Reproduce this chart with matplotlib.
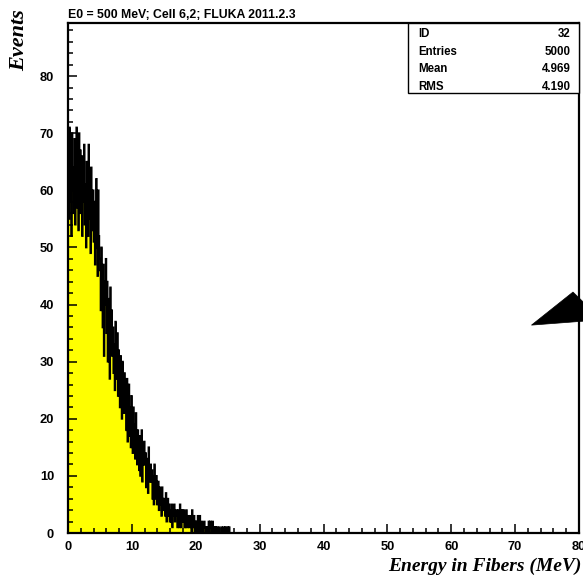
import numpy as np
import matplotlib
matplotlib.use("Agg")
import matplotlib.pyplot as plt
from matplotlib.patches import Rectangle, Polygon

# Fiber energy deposit, 0.1 MeV bins starting at 0 MeV (bins above 26 MeV are empty)
bin_width = 0.1
x_range = (0.0, 80.0)
counts_low = [
    61, 55, 71, 58, 66, 52, 70, 60, 64, 56,
    69, 54, 62, 71, 57, 65, 53, 70, 59, 67,
    56, 66, 52, 63, 58, 68, 54, 61, 50, 65,
    57, 52, 68, 55, 62, 49, 64, 58, 53, 60,
    51, 58, 47, 55, 62, 50, 45, 60, 52, 48,
    46, 39, 50, 42, 36, 47, 31, 44, 40, 48,
    35, 44, 30, 41, 37, 27, 43, 33, 39, 31,
    36, 28, 33, 25, 37, 30, 27, 35, 24, 32,
    29, 22, 31, 26, 20, 30, 24, 21, 28, 23,
    25, 18, 27, 16, 23, 26, 17, 22, 15, 24,
    20, 14, 22, 16, 19, 13, 21, 17, 12, 18,
    16, 11, 17, 10, 15, 18, 9, 14, 12, 16,
    12, 14, 8, 13, 10, 7, 15, 11, 9, 12,
    9, 11, 6, 10, 5, 12, 8, 6, 10, 5,
    7, 9, 4, 8, 5, 7, 3, 8, 6, 4,
    5, 6, 3, 7, 2, 5, 6, 3, 5, 2,
    4, 2, 5, 1, 4, 3, 5, 2, 3, 4,
    3, 1, 4, 2, 1, 5, 3, 1, 4, 2,
    2, 4, 1, 3, 1, 4, 2, 1, 3, 2,
    1, 3, 2, 0, 4, 2, 1, 3, 0, 2,
    1, 2, 0, 3, 0, 1, 3, 1, 0, 2,
    1, 0, 1, 2, 1, 0, 1, 0, 1, 1,
    2, 0, 2, 2, 1, 0, 2, 1, 0, 1,
    0, 1, 0, 1, 0, 0, 1, 0, 0, 0,
    1, 0, 0, 1, 1, 0, 1, 1, 0, 0,
    1, 0, 1, 0, 0, 0, 0, 0, 0, 0,
]

title = "E0 = 500 MeV; Cell 6,2; FLUKA 2011.2.3"
x_label = "Energy in Fibers (MeV)"
y_label = "Events"
stats_names = ["ID", "Entries", "Mean", "RMS"]
stats_values = ["32", "5000", "4.969", "4.190"]
x_ticks = [0, 10, 20, 30, 40, 50, 60, 70, 80]
y_ticks = [0, 10, 20, 30, 40, 50, 60, 70, 80]
y_max = 89.3
# arrow head drawn at the right edge of the frame (data coordinates)
arrow_head = [(72.56, 36.4), (79.06, 42.19), (80.8, 40.3), (80.8, 37.1)]

n_bins = int(round((x_range[1] - x_range[0]) / bin_width))
edges = np.linspace(x_range[0], x_range[1], n_bins + 1)
counts = np.zeros(n_bins)
counts[:len(counts_low)] = counts_low

W, H = 583, 577
fig = plt.figure(figsize=(W / 100, H / 100), dpi=100)


def fx(px):
    return px / W


def fy(py):
    return 1 - py / H


ax_left, ax_right, ax_top, ax_bottom = 68, 579, 23, 533
ax = fig.add_axes([fx(ax_left), fy(ax_bottom), fx(ax_right - ax_left),
                   (ax_bottom - ax_top) / H])

ax.stairs(counts, edges, fill=True, color="#ffff00", zorder=1)
ax.stairs(counts, edges, color="black", lw=1.3, zorder=2)

ax.set_xlim(*x_range)
ax.set_ylim(0, y_max)
ax.set_xticks(x_ticks)
ax.set_yticks(y_ticks)
ax.set_xticks(np.arange(0, 81, 2), minor=True)
ax.set_yticks(np.arange(0, 90, 2), minor=True)

sans = ["Liberation Sans", "DejaVu Sans"]
serif = ["Liberation Serif", "DejaVu Serif"]
ax.tick_params(which="both", direction="in", top=False, right=False,
               width=1.1, color="black")
ax.tick_params(which="major", length=6.5)
ax.tick_params(which="minor", length=3.6)
ax.tick_params(axis="y", which="major", pad=10)
ax.tick_params(axis="x", which="major", pad=6)
for lab in ax.get_xticklabels() + ax.get_yticklabels():
    lab.set_fontfamily(sans)
    lab.set_fontweight("bold")
    lab.set_fontsize(9.3)
for sp in ax.spines.values():
    sp.set_linewidth(1.6)

# arrow head at the right edge
ax.add_patch(Polygon(arrow_head, closed=True, facecolor="black",
                     edgecolor="black", lw=0.5, clip_on=False, zorder=5))

# title and axis titles
fig.text(fx(68), fy(18), title, family=sans, weight="bold", fontsize=8.8,
         ha="left", va="baseline")
fig.text(fx(582), fy(571), x_label, family=serif, weight="bold",
         style="italic", fontsize=14, ha="right", va="baseline")
fig.text(fx(19), fy(9), y_label, family=serif, weight="bold",
         style="italic", fontsize=16, ha="center", va="top", rotation=90)

# statistics box
box_l, box_t, box_b = 408, 23, 93
fig.patches.append(Rectangle((fx(box_l), fy(box_b)), fx(ax_right - box_l),
                             (box_b - box_t) / H, transform=fig.transFigure,
                             facecolor="white", edgecolor="black", lw=1.0,
                             zorder=6))
row_y = [37, 55, 72, 90]
for name, val, ry in zip(stats_names, stats_values, row_y):
    fig.text(fx(418), fy(ry), name, family=sans, weight="bold", fontsize=8.3,
             ha="left", va="baseline", zorder=7)
    fig.text(fx(571), fy(ry), val, family=sans, weight="bold", fontsize=8.3,
             ha="right", va="baseline", zorder=7)

fig.savefig("out.png", dpi=100)
